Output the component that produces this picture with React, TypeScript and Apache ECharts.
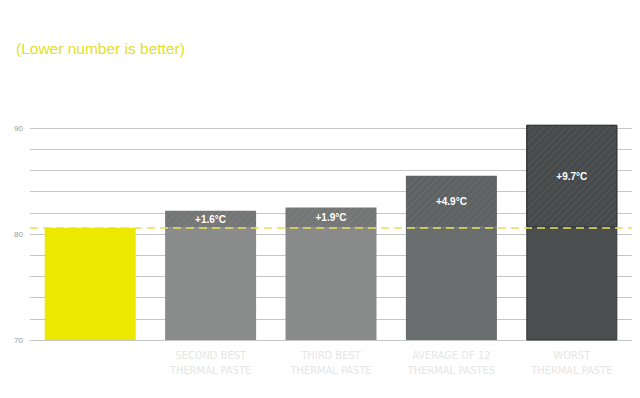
import React, { useEffect, useRef } from "react";
import * as echarts from "echarts";

const categories = [
  "",
  "SECOND BEST\nTHERMAL PASTE",
  "THIRD BEST\nTHERMAL PASTE",
  "AVERAGE OF 12\nTHERMAL PASTES",
  "WORST\nTHERMAL PASTE",
];
const baseline = 80.6;
const deltas = [0, 1.6, 1.9, 4.9, 9.7];
const deltaLabels = ["", "+1.6°C", "+1.9°C", "+4.9°C", "+9.7°C"];
const baseColors = ["#ede800", "#8a8c8c", "#898b8b", "#6a6d6d", "#4b4e4e"];
const topColors = ["#ede800", "#747676", "#747676", "#5f6262", "#474a4a"];
const yTicks = [70, 80, 90];

export default function App() {
  const ref = useRef<HTMLDivElement>(null);
  useEffect(() => {
    if (!ref.current) return;
    const chart = echarts.init(ref.current, undefined, { renderer: "svg" });
    const decal = {
      symbol: "rect",
      symbolSize: 1,
      dashArrayX: [1, 0],
      dashArrayY: [1, 4],
      rotation: -Math.PI / 4,
      color: "rgba(255,255,255,0.07)",
    };
    const gridColors: string[] = [];
    for (let v = 70; v <= 92; v += 2) gridColors.push(v > 90 ? "transparent" : "#c6c6c6");
    chart.setOption({
      animation: false,
      backgroundColor: "#ffffff",
      title: {
        text: "(Lower number is better)",
        left: 11,
        top: 35,
        textStyle: {
          color: "#e3df2a",
          fontSize: 15.5,
          fontWeight: "normal",
          fontFamily: "Liberation Sans, Arial, sans-serif",
        },
      },
      grid: { left: 30, right: 8, top: 106.8, bottom: 58 },
      xAxis: {
        type: "category",
        data: categories,
        axisLine: { show: false },
        axisTick: { show: false },
        axisLabel: {
          color: "#e6e6e6",
          fontSize: 11,
          lineHeight: 15,
          margin: 8,
          fontFamily: "DejaVu Sans Condensed, Liberation Sans Narrow, sans-serif",
        },
      },
      yAxis: {
        type: "value",
        min: 70,
        max: 92,
        interval: 2,
        axisLine: { show: false },
        axisTick: { show: false },
        axisLabel: {
          color: "#9a9a9a",
          fontSize: 8,
          margin: 7,
          fontFamily: "Liberation Sans, Arial, sans-serif",
          formatter: (v: number) => (yTicks.includes(v) ? String(v) : ""),
        },
        splitLine: { lineStyle: { color: gridColors, width: 1 } },
      },
      series: [
        {
          name: "best",
          type: "bar",
          stack: "t",
          barWidth: 91,
          z: 6,
          data: categories.map((_, i) => (i === 0 ? { value: baseline, itemStyle: { color: baseColors[0] } } : "-")),
        },
        {
          name: "base",
          type: "bar",
          stack: "t",
          barWidth: 91,
          z: 2,
          data: categories.map((_, i) =>
            i === 0
              ? "-"
              : {
                  value: baseline,
                  itemStyle: {
                    color: baseColors[i],
                    borderColor: i === 4 ? "#333636" : baseColors[i],
                    borderWidth: i === 4 ? 1 : 0,
                  },
                }
          ),
          markLine: {
            silent: true,
            symbol: "none",
            label: { show: false },
            lineStyle: { color: "#e6df5a", type: [8, 5], width: 1.5 },
            data: [{ yAxis: baseline }],
            z: 4,
          },
        },
        {
          name: "delta",
          type: "bar",
          stack: "t",
          barWidth: 91,
          z: 2,
          data: deltas.map((d, i) =>
            i === 0
              ? "-"
              : {
                  value: d,
                  itemStyle: {
                    color: topColors[i],
                    decal: decal,
                    borderColor: i === 4 ? "#333636" : topColors[i],
                    borderWidth: i === 4 ? 1 : 0,
                  },
                }
          ),
          label: {
            show: true,
            position: "inside",
            color: "#ffffff",
            fontWeight: "bold",
            fontSize: 10,
            fontFamily: "Liberation Sans, Arial, sans-serif",
            formatter: (p: any) => deltaLabels[p.dataIndex],
          },
        },
      ],
    });
    return () => chart.dispose();
  }, []);
  return <div ref={ref} style={{ width: 640, height: 398, margin: -8 }} />;
}
